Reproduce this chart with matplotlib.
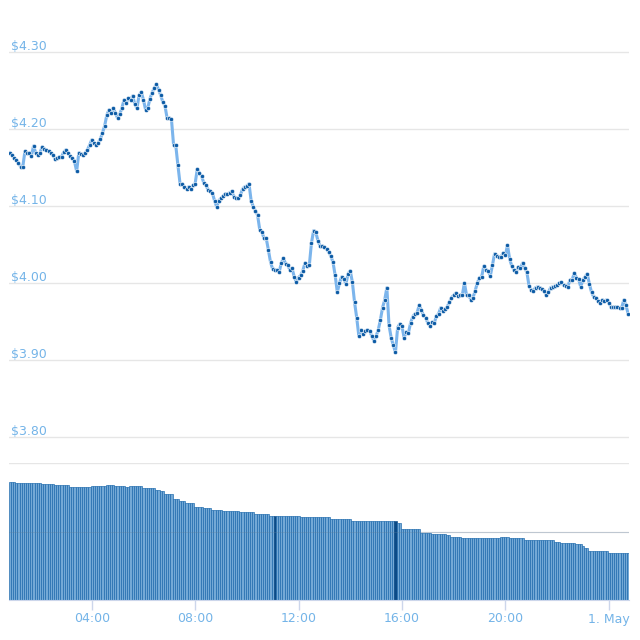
import pandas as pd
import matplotlib
matplotlib.use('Agg')
import matplotlib.pyplot as plt

# 5-minute samples, 30 Apr 00:50 -> 1 May 00:45
times = pd.date_range('2019-04-30 00:50', periods=288, freq='5min')

price = [
    4.169, 4.166, 4.162, 4.160, 4.156, 4.151, 4.151, 4.171, 4.169, 4.169, 4.165, 4.178,
    4.169, 4.166, 4.169, 4.177, 4.174, 4.173, 4.171, 4.169, 4.166, 4.161, 4.162, 4.164,
    4.164, 4.170, 4.173, 4.169, 4.165, 4.162, 4.158, 4.145, 4.169, 4.168, 4.166, 4.169,
    4.173, 4.179, 4.186, 4.182, 4.179, 4.182, 4.187, 4.195, 4.204, 4.218, 4.225, 4.221,
    4.227, 4.221, 4.214, 4.219, 4.227, 4.238, 4.234, 4.240, 4.238, 4.243, 4.232, 4.227,
    4.244, 4.248, 4.238, 4.225, 4.227, 4.239, 4.247, 4.253, 4.258, 4.251, 4.244, 4.235,
    4.230, 4.214, 4.214, 4.213, 4.179, 4.179, 4.153, 4.129, 4.129, 4.125, 4.122, 4.125,
    4.122, 4.127, 4.129, 4.148, 4.143, 4.139, 4.130, 4.127, 4.121, 4.119, 4.117, 4.107,
    4.099, 4.107, 4.110, 4.113, 4.116, 4.116, 4.117, 4.119, 4.112, 4.110, 4.110, 4.114,
    4.122, 4.125, 4.126, 4.129, 4.107, 4.099, 4.094, 4.088, 4.069, 4.066, 4.058, 4.058,
    4.043, 4.027, 4.018, 4.017, 4.017, 4.014, 4.026, 4.032, 4.025, 4.023, 4.017, 4.019,
    4.008, 4.001, 4.007, 4.010, 4.016, 4.026, 4.022, 4.023, 4.052, 4.068, 4.066, 4.055,
    4.048, 4.048, 4.047, 4.044, 4.040, 4.035, 4.027, 4.010, 3.988, 4.000, 4.008, 4.005,
    3.999, 4.012, 4.016, 4.001, 3.975, 3.955, 3.931, 3.939, 3.934, 3.938, 3.939, 3.938,
    3.931, 3.925, 3.931, 3.939, 3.952, 3.968, 3.978, 3.994, 3.945, 3.929, 3.919, 3.910,
    3.942, 3.947, 3.944, 3.929, 3.936, 3.935, 3.948, 3.956, 3.960, 3.961, 3.971, 3.965,
    3.958, 3.955, 3.948, 3.944, 3.949, 3.948, 3.957, 3.960, 3.968, 3.964, 3.966, 3.969,
    3.975, 3.981, 3.984, 3.987, 3.983, 3.984, 3.984, 4.000, 3.984, 3.984, 3.978, 3.981,
    3.990, 4.000, 4.007, 4.008, 4.022, 4.017, 4.016, 4.009, 4.023, 4.038, 4.035, 4.034,
    4.034, 4.039, 4.036, 4.049, 4.031, 4.022, 4.017, 4.014, 4.021, 4.019, 4.026, 4.019,
    4.014, 3.996, 3.991, 3.990, 3.994, 3.995, 3.994, 3.992, 3.990, 3.984, 3.988, 3.994,
    3.995, 3.996, 3.997, 4.000, 4.001, 3.997, 3.996, 3.995, 4.004, 4.004, 4.013, 4.007,
    4.005, 3.995, 4.004, 4.008, 4.012, 3.999, 3.988, 3.982, 3.981, 3.977, 3.974, 3.978,
    3.977, 3.978, 3.974, 3.969, 3.969, 3.969, 3.969, 3.968, 3.968, 3.978, 3.971, 3.960,
]

# 24h volume (arbitrary units, axis 0-200)
volume = [
    172, 172, 172, 171, 171, 171, 171, 171, 171, 171, 171, 171,
    171, 171, 171, 169, 169, 169, 169, 169, 169, 168, 168, 168,
    168, 168, 168, 168, 165, 165, 165, 165, 165, 165, 165, 165,
    165, 165, 166, 166, 166, 166, 166, 166, 166, 168, 168, 168,
    168, 166, 166, 166, 166, 166, 165, 165, 166, 166, 166, 166,
    166, 166, 163, 163, 163, 163, 163, 163, 161, 161, 159, 159,
    155, 155, 155, 155, 147, 147, 147, 144, 144, 144, 141, 141,
    141, 141, 136, 136, 136, 136, 134, 134, 134, 134, 131, 131,
    131, 131, 131, 130, 130, 130, 130, 130, 130, 130, 130, 128,
    128, 128, 128, 128, 128, 128, 125, 125, 125, 125, 125, 125,
    125, 122, 122, 122, 122, 122, 122, 122, 122, 122, 122, 122,
    122, 122, 122, 121, 121, 121, 121, 121, 121, 121, 121, 121,
    121, 121, 121, 121, 121, 118, 118, 118, 118, 118, 118, 118,
    118, 118, 118, 116, 116, 116, 116, 116, 116, 116, 116, 116,
    116, 116, 115, 115, 115, 115, 115, 115, 115, 115, 115, 115,
    112, 112, 103, 103, 103, 103, 103, 103, 103, 103, 103, 98,
    98, 98, 98, 98, 96, 96, 96, 96, 96, 96, 96, 95,
    95, 92, 92, 92, 92, 92, 91, 91, 91, 91, 91, 91,
    90, 90, 90, 90, 90, 90, 90, 90, 90, 90, 90, 90,
    92, 92, 92, 92, 90, 90, 90, 90, 90, 90, 90, 88,
    88, 88, 88, 88, 87, 87, 87, 87, 87, 87, 87, 87,
    87, 85, 85, 85, 83, 83, 83, 83, 83, 83, 83, 82,
    82, 82, 79, 76, 76, 72, 72, 72, 72, 72, 72, 72,
    72, 72, 69, 69, 69, 69, 69, 69, 69, 69, 69, 69,
]

price_ticks = [3.80, 3.90, 4.00, 4.10, 4.20, 4.30]
vol_ticks = [100, 200]
x_ticks = pd.to_datetime(['2019-04-30 04:00', '2019-04-30 08:00', '2019-04-30 12:00',
                          '2019-04-30 16:00', '2019-04-30 20:00', '2019-05-01 00:00'])
x_labels = ['04:00', '08:00', '12:00', '16:00', '20:00', '1. May']
dark_bars = [123, 179]

label_col = '#74b4e8'
grid_col = '#e6e6e6'

fig = plt.figure(figsize=(6.4, 6.4), dpi=100)
ax = fig.add_axes([9 / 640, 1 - 445 / 640, 620 / 640, 405 / 640])
axv = fig.add_axes([9 / 640, 1 - 600 / 640, 620 / 640, 137 / 640], sharex=ax)

pad = pd.Timedelta(minutes=2)
x0, x1 = times[0] - pad, times[-1] + pad

# price pane
for t in price_ticks:
    ax.axhline(t, color=grid_col, lw=1, zorder=0)
    ax.annotate(f'${t:.2f}', xy=(0.003, t), xycoords=('axes fraction', 'data'),
                xytext=(0, -1), textcoords='offset pixels', ha='left', va='bottom',
                fontsize=9, color=label_col)
ax.plot(times, price, color='#7cb5ec', lw=2.2, zorder=2)
ax.plot(times, price, ls='none', marker='o', ms=3.0, mfc='#0d5ca6',
        mec='white', mew=0.4, zorder=3)
ax.set_ylim(4.3675 - 445 / 770, 4.3675 - 40 / 770)
ax.set_xlim(x0, x1)
ax.axis('off')

# volume pane
for t in vol_ticks:
    axv.axhline(t, color=grid_col, lw=1, zorder=0)
bar_w = pd.Timedelta(minutes=5)
colors = ['#0b4a86' if i in dark_bars else '#74a9d6' for i in range(len(volume))]
edges = ['#0b4a86' if i in dark_bars else '#1866aa' for i in range(len(volume))]
axv.bar(times, volume, width=bar_w, color=colors, edgecolor=edges, lw=0.45, zorder=2)
axv.axhline(vol_ticks[0], color='#5f7f9f', lw=0.6, alpha=0.35, zorder=3)
axv.set_ylim(0, 200)
axv.set_xlim(x0, x1)
axv.set_yticks([])
for s in ['top', 'left', 'right']:
    axv.spines[s].set_visible(False)
axv.spines['bottom'].set_color('#ccd6eb')
axv.set_xticks(x_ticks)
axv.set_xticklabels(x_labels)
axv.tick_params(axis='x', colors='#ccd6eb', length=7, width=1, pad=2,
                labelcolor=label_col, labelsize=9)
axv.set_facecolor('none')

fig.savefig('out.png', dpi=100)
